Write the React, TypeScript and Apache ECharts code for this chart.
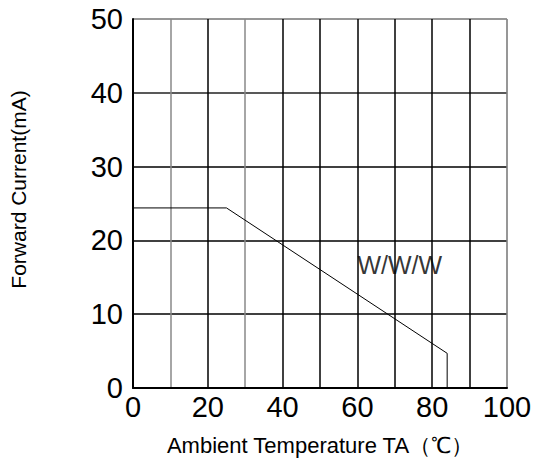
import React, { useEffect, useRef } from "react";
import * as echarts from "echarts";

const xTicks = [0, 20, 40, 60, 80, 100];
const curveTemp = [0, 25, 84, 84];
const curveCurrent = [24.4, 24.4, 4.7, 0];
const labelPoint = [60, 16.7];
const labelText = "W/W/W";
const xName = "Ambient Temperature TA（℃）";
const yName = "Forward Current(mA)";
const xGridColors = ["#000", "#888", "#000", "#888", "#000", "#000", "#000", "#000", "#000", "#000", "#888"];
const yGridColors = ["#000", "#000", "#000", "#000", "#222", "#888"];

export default function App() {
  const ref = useRef<HTMLDivElement>(null);
  useEffect(() => {
    if (!ref.current) return;
    const chart = echarts.init(ref.current, null, { renderer: "svg" });
    const font = "'Liberation Sans', Arial, sans-serif";
    chart.setOption({
      animation: false,
      backgroundColor: "#fff",
      grid: {
        left: 132,
        right: 33,
        top: 19,
        bottom: 70,
        show: true,
        borderColor: "#888",
        borderWidth: 1,
      },
      xAxis: {
        type: "value",
        min: 0,
        max: 100,
        interval: 10,
        name: xName,
        nameLocation: "middle",
        nameGap: 46,
        nameTextStyle: { fontFamily: font, fontSize: 22, color: "#000" },
        axisLine: { show: true, lineStyle: { color: "#000", width: 2 } },
        axisTick: { show: false },
        axisLabel: {
          fontFamily: font,
          fontSize: 29,
          color: "#000",
          margin: 4,
          formatter: (v: number) => (xTicks.indexOf(v) >= 0 ? String(v) : ""),
        },
        splitLine: { show: true, lineStyle: { color: xGridColors, width: 1.5 } },
      },
      yAxis: {
        type: "value",
        min: 0,
        max: 50,
        interval: 10,
        name: yName,
        nameLocation: "middle",
        nameGap: 104,
        nameTextStyle: {
          fontFamily: font,
          fontSize: 21,
          color: "#000",
          padding: [0, 0, 0, 28],
        },
        axisLine: { show: true, lineStyle: { color: "#000", width: 2 } },
        axisTick: { show: false },
        axisLabel: { fontFamily: font, fontSize: 29, color: "#000", margin: 10 },
        splitLine: { show: true, lineStyle: { color: yGridColors, width: 1.5 } },
      },
      series: [
        {
          type: "line",
          data: curveTemp.map((t, i) => [t, curveCurrent[i]]),
          symbol: "none",
          lineStyle: { color: "#000", width: 1 },
          z: 5,
        },
        {
          type: "scatter",
          data: [labelPoint],
          symbolSize: 0,
          label: {
            show: true,
            position: "right",
            distance: 0,
            formatter: labelText,
            fontFamily: font,
            fontSize: 25,
            color: "#000",
          },
          z: 6,
        },
      ],
    });
    return () => chart.dispose();
  }, []);
  return (
    <div
      ref={ref}
      style={{ position: "fixed", left: 0, top: 0, width: 540, height: 461 }}
    />
  );
}
